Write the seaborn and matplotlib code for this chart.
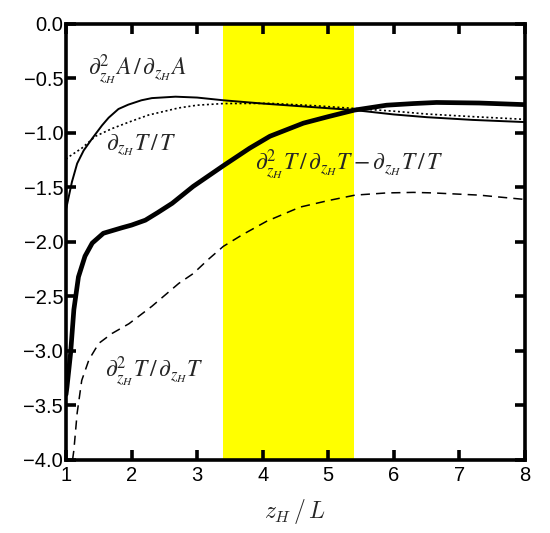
import numpy as np
import matplotlib
matplotlib.use("Agg")
import matplotlib.pyplot as plt
import seaborn as sns

# curves
x_a = [1.0, 1.015, 1.09, 1.17, 1.27, 1.40, 1.55, 1.65, 1.80, 1.95, 2.15, 2.31, 2.67, 3.0, 3.4,
       4.0, 4.7, 5.4, 6.0, 6.5, 7.2, 8.0]
y_a = [-1.70, -1.66, -1.45, -1.28, -1.16, -1.05, -0.93, -0.86, -0.78, -0.74, -0.70, -0.68,
       -0.667, -0.675, -0.70, -0.73, -0.76, -0.79, -0.83, -0.855, -0.88, -0.90]

x_t = [1.0, 1.04, 1.24, 1.45, 1.70, 1.96, 2.26, 2.72, 3.0, 3.4, 4.1, 4.8, 5.4, 6.0, 6.5, 7.2, 8.0]
y_t = [-1.24, -1.22, -1.14, -1.03, -0.96, -0.90, -0.835, -0.77, -0.745, -0.73, -0.728, -0.75,
       -0.775, -0.80, -0.826, -0.85, -0.875]

x_d = [1.0, 1.015, 1.07, 1.12, 1.19, 1.29, 1.40, 1.57, 1.85, 2.0, 2.21, 2.4, 2.62, 2.94, 3.4,
       3.8, 4.11, 4.62, 5.0, 5.4, 5.89, 6.3, 6.65, 7.3, 8.0]
y_d = [-3.40, -3.33, -3.02, -2.62, -2.32, -2.13, -2.01, -1.92, -1.87, -1.845, -1.80, -1.73,
       -1.645, -1.49, -1.30, -1.14, -1.03, -0.91, -0.85, -0.79, -0.745, -0.73, -0.72, -0.725, -0.74]

x_s = [1.10, 1.12, 1.17, 1.24, 1.35, 1.50, 1.70, 1.96, 2.31, 2.72, 2.94, 3.17, 3.4, 3.7, 4.06,
       4.57, 5.0, 5.41, 5.89, 6.3, 6.6, 7.3, 8.0]
y_s = [-4.0, -3.91, -3.57, -3.27, -3.08, -2.93, -2.84, -2.75, -2.59, -2.38, -2.29, -2.16, -2.04,
       -1.93, -1.81, -1.68, -1.62, -1.57, -1.55, -1.545, -1.55, -1.57, -1.61]

band = (3.4, 5.4)
y_ticks = [-4.0, -3.5, -3.0, -2.5, -2.0, -1.5, -1.0, -0.5, 0.0]

sns.set_style("ticks")
plt.rcParams["font.family"] = ["Liberation Sans", "DejaVu Sans"]
plt.rcParams["mathtext.fontset"] = "stix"

fig = plt.figure(figsize=(5.5, 5.33), dpi=100)
ax = fig.add_axes([0.12, 0.137, 0.8345, 0.818])

ax.axvspan(band[0], band[1], color="#ffff00", lw=0, zorder=0)

sns.lineplot(x=x_a, y=y_a, ax=ax, color="black", lw=1.4, sort=False)
sns.lineplot(x=x_t, y=y_t, ax=ax, color="black", lw=1.2, linestyle=(0, (1.2, 1.6)), sort=False)
sns.lineplot(x=x_d, y=y_d, ax=ax, color="black", lw=3.4, sort=False)
sns.lineplot(x=x_s, y=y_s, ax=ax, color="black", lw=1.1, linestyle=(0, (6, 4)), sort=False)

fs = 17
ax.text(1.33, -0.42, r"$\partial^2_{z_H}A\,/\,\partial_{z_H}A$", fontsize=fs, va="center")
ax.text(1.61, -1.11, r"$\partial_{z_H}T\,/\,T$", fontsize=fs, va="center")
ax.text(3.88, -1.29, r"$\partial^2_{z_H}T\,/\,\partial_{z_H}T-\partial_{z_H}T\,/\,T$",
        fontsize=fs, va="center")
ax.text(1.59, -3.19, r"$\partial^2_{z_H}T\,/\,\partial_{z_H}T$", fontsize=fs, va="center")

ax.set_xlim(1, 8)
ax.set_ylim(-4, 0)
ax.set_xticks(range(1, 9))
ax.set_yticks(y_ticks)
ax.set_yticklabels([f"{v:.1f}".replace("-", "\u2212") for v in y_ticks])
ax.set_xlabel(r"$z_H\,/\,L$", fontsize=17, labelpad=9, math_fontfamily="cm")
ax.set_ylabel("")

for s in ax.spines.values():
    s.set_visible(True)
    s.set_linewidth(2.6)
    s.set_color("black")
ax.tick_params(direction="in", length=7, width=2.6, top=True, right=True, colors="black",
               labelsize=14.5, pad=2)
ax.tick_params(axis="x", pad=4)

fig.savefig("out.png", dpi=100)
